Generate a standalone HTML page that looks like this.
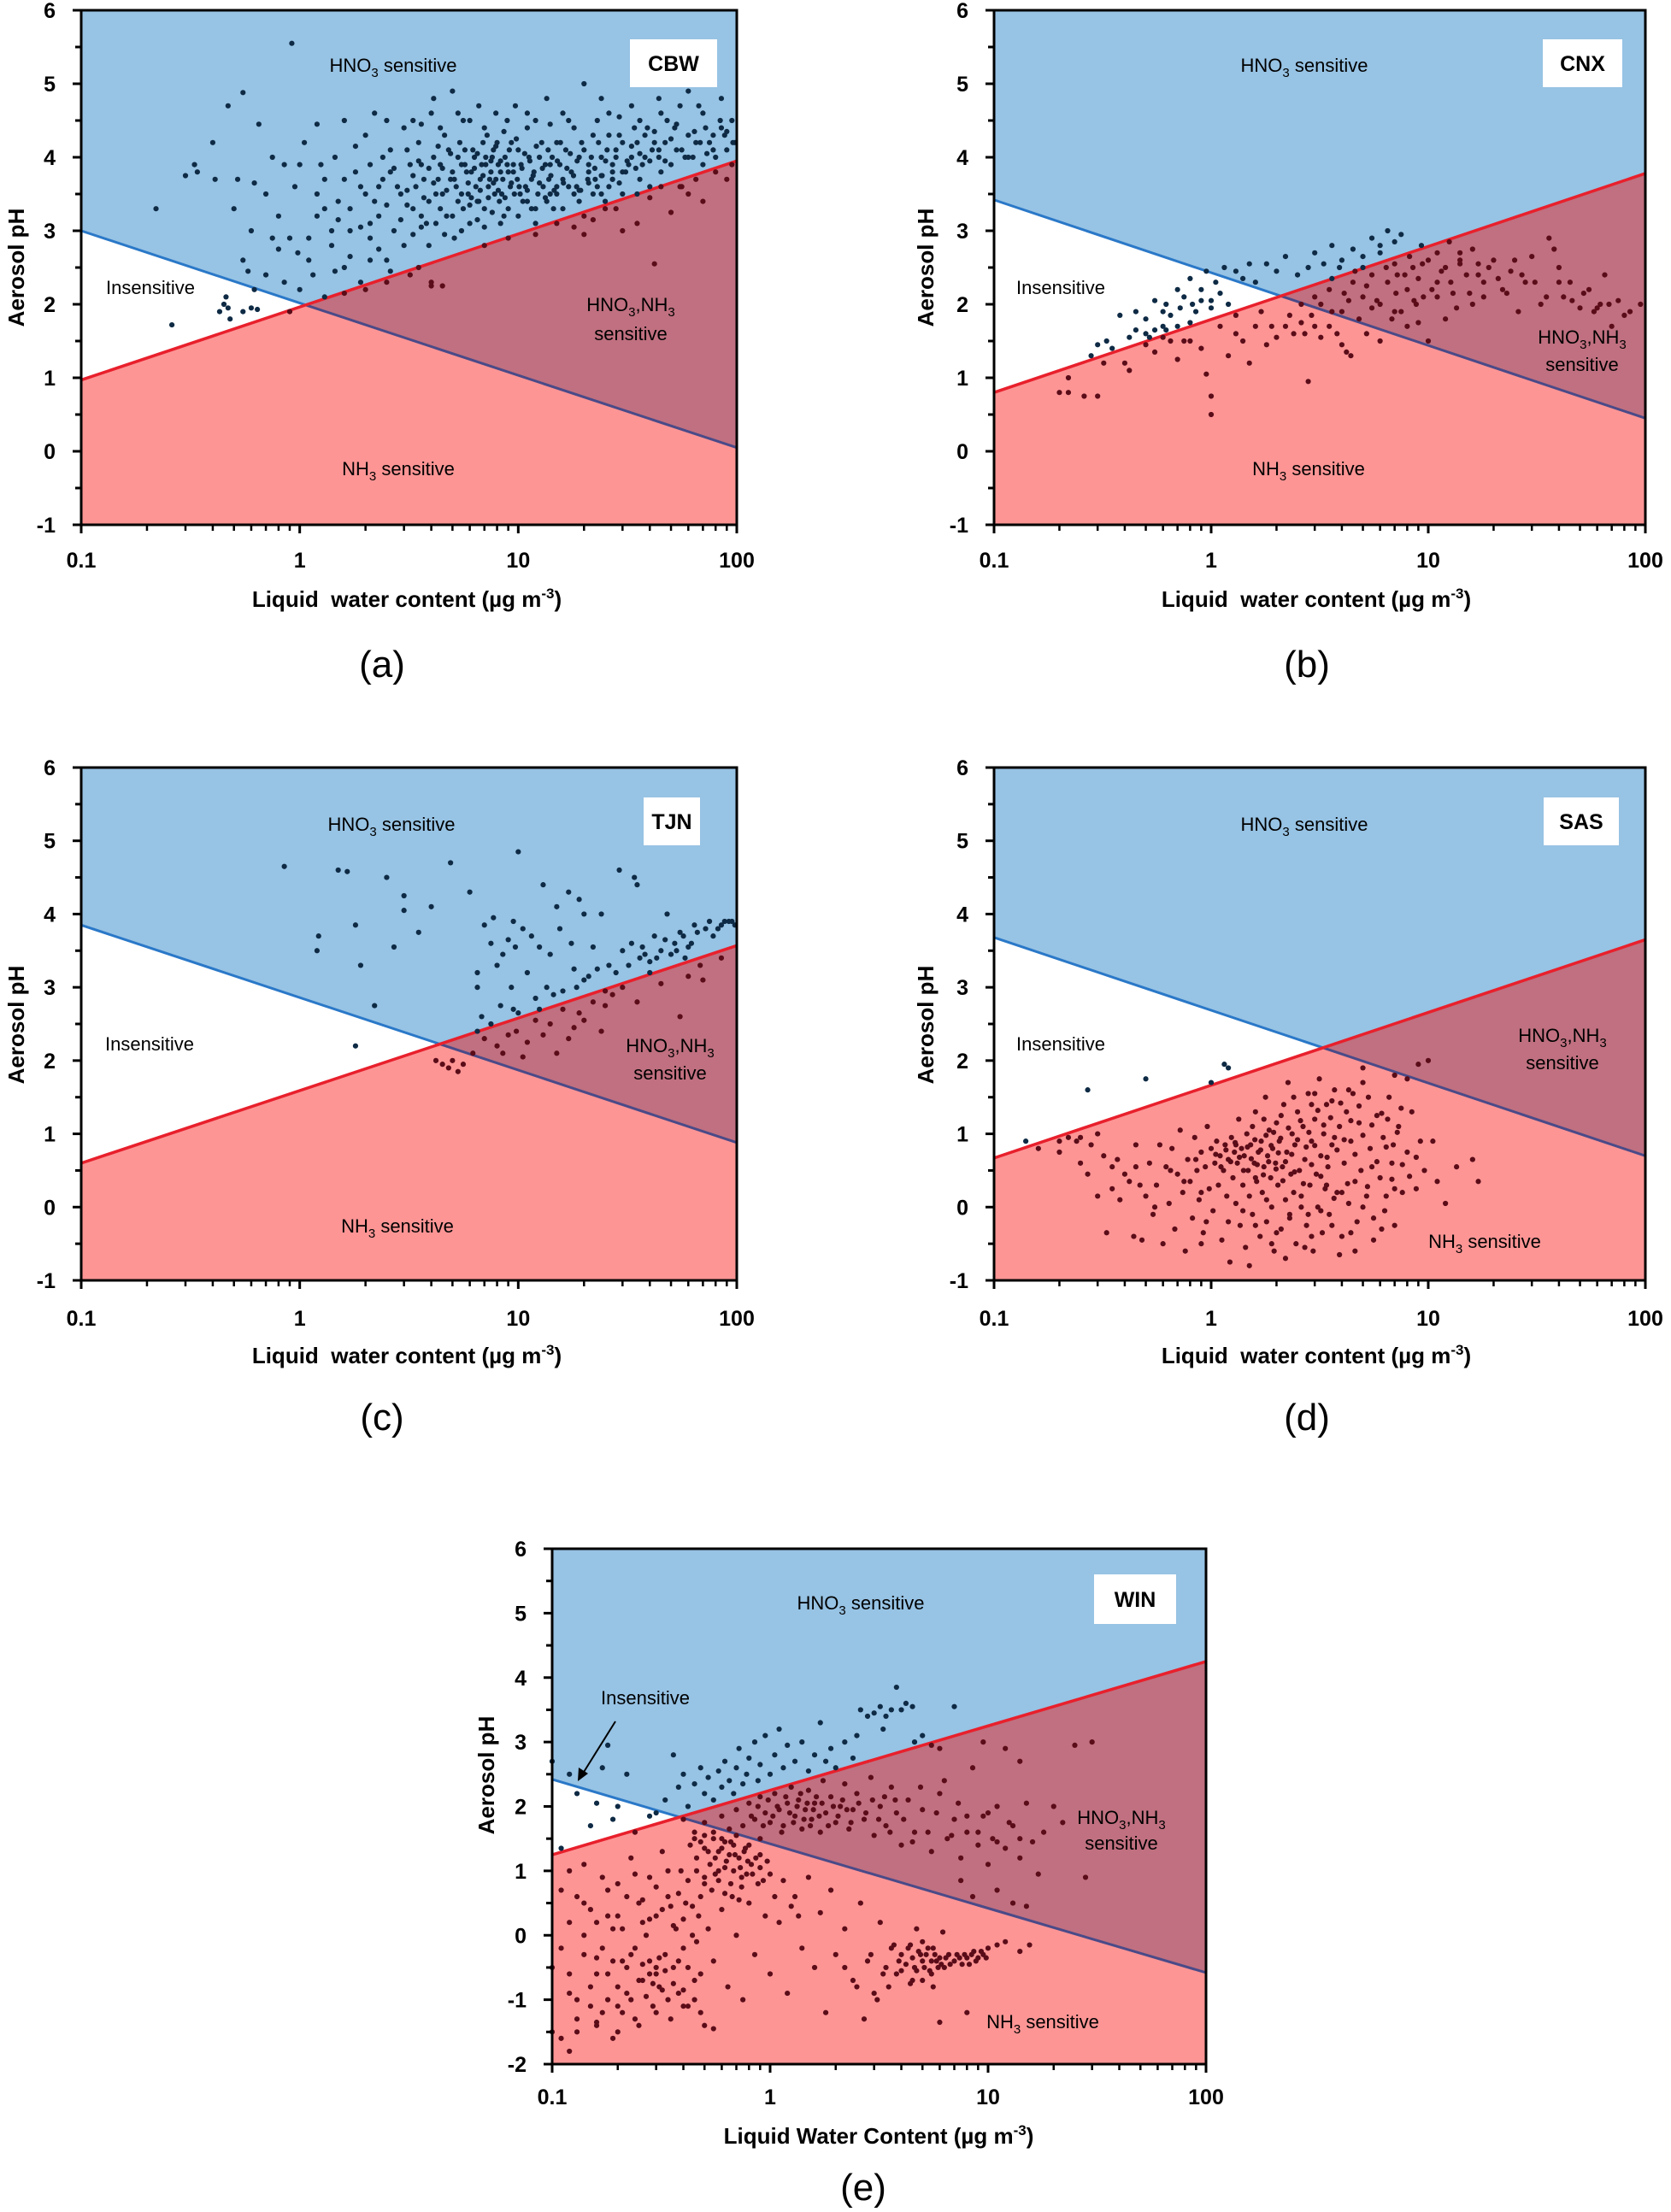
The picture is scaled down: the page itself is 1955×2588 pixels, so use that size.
<!DOCTYPE html>
<html><head><meta charset="utf-8"><title>Aerosol pH sensitivity regimes</title>
<style>
html,body{margin:0;padding:0;background:#fff;}
svg{display:block;font-family:"Liberation Sans",sans-serif;}
</style></head>
<body>
<svg id="fig" xmlns="http://www.w3.org/2000/svg" width="1955" height="2588" viewBox="0 0 1955 2588"></svg>
<script>
// ---------- data ----------
const panelCodes = ["CBW","CNX","TJN","SAS","WIN"];
const panelLetters = ["(a)","(b)","(c)","(d)","(e)"];
const xTicks = [0.1,1,10,100];
const xTickLabels = ["0.1","1","10","100"];
const yTicksA = [-1,0,1,2,3,4,5,6];
const yTicksE = [-2,-1,0,1,2,3,4,5,6];
// boundary lines: pH at LWC=0.1 and LWC=100
const blueLine = [[3.0,0.05],[3.42,0.45],[3.85,0.88],[3.68,0.7],[2.42,-0.58]];
const redLine  = [[0.97,3.95],[0.8,3.78],[0.6,3.57],[0.67,3.65],[1.25,4.25]];

const cbwPoints = [[0.22,3.3],[0.26,1.72],[0.3,3.75],[0.33,3.9],[0.34,3.8],[0.4,4.2],[0.41,3.7],[0.43,1.9],[0.45,2.0],[0.46,2.1],[0.47,1.95],[0.48,1.8],[0.47,4.7],[0.5,3.3],[0.55,4.88],[0.52,3.7],[0.55,1.9],[0.6,1.95],[0.62,2.2],[0.62,3.65],[0.64,1.93],[0.65,4.45],[0.92,5.55],[0.9,1.9],[0.55,2.6],[0.6,3.0],[0.58,2.45],[0.7,3.5],[0.75,4.0],[0.8,2.75],[0.85,2.3],[0.9,2.9],[0.95,3.6],[1.0,2.2],[1.0,3.9],[1.1,2.6],[1.2,3.2],[1.15,2.4],[1.3,3.7],[1.3,2.1],[1.4,2.8],[1.45,4.0],[1.5,3.4],[1.6,2.5],[1.6,4.5],[1.7,3.0],[1.8,3.8],[1.9,2.3],[2.0,3.5],[2.0,4.3],[2.1,2.9],[2.2,4.6],[2.3,3.2],[2.4,3.7],[2.5,2.6],[2.6,4.1],[2.7,3.0],[2.8,3.6],[3.0,4.4],[3.0,2.8],[3.2,3.9],[3.3,3.3],[3.5,4.2],[3.5,2.5],[3.7,3.7],[3.8,3.1],[4.0,4.6],[4.0,2.3],[4.2,3.5],[4.4,3.9],[4.6,4.3],[4.7,3.2],[4.9,3.7],[5.0,4.9],[5.1,2.9],[5.3,4.0],[5.5,3.5],[5.6,4.5],[5.8,3.8],[6.0,3.1],[6.2,4.1],[6.4,3.6],[6.6,4.7],[6.8,3.9],[7.0,3.3],[7.2,4.3],[7.4,3.7],[7.6,4.0],[7.8,3.5],[8.0,4.2],[8.3,3.8],[8.6,3.2],[8.9,4.5],[9.2,3.6],[9.5,3.9],[10,4.1],[10.5,3.4],[11,4.4],[11.5,3.7],[12,3.1],[12.5,4.0],[13,3.6],[13.5,4.8],[14,3.9],[14.5,3.3],[15,4.2],[16,3.7],[17,4.5],[18,3.5],[19,4.0],[20,5.0],[20,3.2],[21,3.8],[22,4.3],[23,3.6],[24,4.0],[25,3.4],[26,4.6],[27,3.7],[28,4.1],[30,3.5],[32,3.9],[34,4.4],[36,3.7],[38,4.0],[40,3.6],[42,4.2],[45,3.8],[48,4.5],[50,3.9],[53,4.1],[56,3.6],[60,4.3],[63,4.0],[67,4.7],[70,3.9],[75,4.2],[80,4.0],[85,4.4],[90,4.1],[95,4.5],[98,4.2],
[1.6,2.15],[2.0,2.2],[2.5,2.3],[3.2,2.4],[4.0,2.25],[4.5,2.25],[7,2.8],[9,2.9],[12,2.95],[15,3.1],[18,3.05],[20,2.95],[25,3.3],[30,3.0],[35,3.5],[40,3.45],[42,2.55],[45,3.6],[50,3.25],[55,3.6],[60,3.5],[65,3.7],[70,3.4],[80,3.8],[90,3.7],[95,3.9],[35,3.1],[28,3.3],[22,3.15],
[3.4,3.6],[3.6,3.9],[3.9,3.4],[4.1,4.0],[4.3,3.7],[4.5,3.5],[4.8,4.1],[5.0,3.8],[5.2,3.6],[5.4,4.2],[5.7,3.9],[5.9,3.5],[6.1,3.8],[6.3,4.0],[6.5,3.4],[6.7,3.7],[6.9,4.2],[7.1,3.9],[7.3,3.6],[7.5,3.8],[7.7,4.1],[7.9,3.7],[8.1,3.9],[8.4,3.5],[8.7,4.0],[9.0,3.8],[9.3,4.2],[9.6,3.5],[9.9,3.7],[10.3,3.9],[10.8,3.6],[11.2,4.0],[11.8,3.8],[12.3,3.5],[12.8,4.2],[13.3,3.9],[13.8,3.7],[14.3,4.0],[15,3.6],[15.5,3.9],[16.5,4.1],[17.5,3.8],[18.5,3.6],[19.5,4.2],[21,3.9],[22.5,3.7],[24,3.5],[25.5,4.1],[27,3.9],[29,4.3],[31,3.8],[33,4.0],[35,4.2],[37,3.9],[39,4.4],[41,4.1],[44,4.0],[47,4.2],[52,4.4],[58,4.0],[65,4.2],[72,4.4],[78,4.1],[88,4.3],
[2.2,3.4],[2.6,3.8],[2.9,3.5],[3.1,4.1],[2.4,4.0],[1.9,3.6],[1.7,3.3],[2.1,3.9],[3.6,3.2],[4.4,3.3],[5.6,3.3],[6.6,3.4],[8.2,3.4],[10.2,3.5],[11.5,3.3],[14,3.5],[16,3.3],[19,3.4],[22,3.5],[26,3.6],[5.3,4.6],[7.9,4.6],[9.7,4.7],[12,4.5],[16,4.6],[24,4.8],[33,4.7],[44,4.8],[60,4.9],[85,4.8],[3.3,4.5],[4.1,4.8],[1.2,3.5],[1.4,3.0],[1.1,2.9],[0.98,2.7],[1.25,3.9],[1.6,3.7]];
const cbwPoints2 = [[3.1,3.55],[3.3,3.75],[3.5,3.95],[3.7,3.45],[3.9,3.85],[4.1,3.65],[4.3,4.15],[4.5,3.85],[4.7,3.55],[4.9,4.05],[5.1,3.7],[5.3,3.4],[5.5,3.9],[5.7,4.1],[5.9,3.65],[6.1,3.45],[6.3,3.85],[6.5,4.05],[6.7,3.55],[6.9,3.75],[7.1,4.0],[7.3,3.45],[7.5,3.95],[7.7,3.65],[7.9,4.15],[8.1,3.55],[8.3,3.95],[8.5,3.7],[8.7,3.45],[8.9,3.9],[9.1,4.1],[9.3,3.65],[9.5,3.8],[9.8,4.25],[10.1,3.6],[10.4,3.85],[10.7,4.05],[11,3.55],[11.3,3.95],[11.7,3.75],[12.1,4.15],[12.5,3.65],[12.9,3.85],[13.3,3.45],[13.7,4.1],[14.1,3.75],[14.6,3.55],[15.1,3.95],[15.6,4.2],[16.1,3.65],[16.7,3.85],[17.3,4.05],[17.9,3.75],[18.6,3.95],[19.3,3.55],[20,4.1],[20.8,3.7],[21.6,4.0],[22.4,3.85],[23.3,4.2],[24.2,3.75],[25.1,3.95],[26,4.3],[27,3.8],[28,4.0],[29,3.65],[30,4.2],[31.5,3.95],[33,4.15],[34.5,3.85],[36,4.05],[38,4.3],[40,3.95],[42,4.35],[44,4.1],[47,3.95],[50,4.25],[53,4.45],[56,4.1],[60,4.0],[64,4.35],[68,4.2],[73,4.05],[78,4.3],[84,4.5],[90,4.35],[96,4.2],
[2.1,3.1],[2.3,3.6],[2.5,3.35],[2.7,3.85],[2.9,3.15],[3.1,3.35],[3.3,2.95],[3.6,3.05],[3.9,2.8],[4.2,3.1],[4.6,2.95],[5.0,3.2],[5.5,3.0],[6.0,3.35],[6.5,3.15],[7.0,3.05],[7.6,3.25],[8.3,3.1],[9.0,3.3],[10,3.2],[11,3.4],[12,3.3],[13.5,3.4],[15,3.5],[17,3.6],[19,3.55],[21,3.65],[24,3.75],[27,3.7],[30,3.8],
[1.5,3.15],[1.7,2.65],[1.9,3.05],[2.1,2.6],[2.3,2.75],[2.6,2.45],[1.3,3.3],[1.45,2.45],[1.8,4.15],[2.5,4.5],[3.6,4.45],[4.4,4.4],[6.0,4.5],[7.0,4.4],[8.6,4.35],[11,4.6],[14,4.45],[18,4.4],[23,4.5],[29,4.55],[36,4.5],[45,4.6],[55,4.7],[70,4.6],[0.8,3.2],[0.85,3.9],[1.05,4.2],[1.2,4.45],[0.7,2.4],[0.75,2.9]];

const cnxPoints = [[0.2,0.8],[0.22,0.8],[0.26,0.75],[0.3,0.75],[0.22,1.0],[0.28,1.3],[0.32,1.2],[0.35,1.4],[0.4,1.2],[0.42,1.1],[0.5,1.45],[0.55,1.35],[0.6,1.55],[0.65,1.5],[0.7,1.25],[0.75,1.5],[0.62,1.65],[0.55,1.65],[0.5,1.6],[0.8,1.5],[0.9,1.4],[0.95,1.05],[1.0,0.75],[1.0,0.5],[1.1,1.7],[1.2,1.3],[1.3,1.6],[1.4,1.5],[1.5,1.2],[1.7,1.9],[1.9,1.7],[2.0,1.55],[2.2,1.7],[2.4,1.6],[2.6,1.75],[2.8,0.95],[2.9,1.85],[3.0,1.7],[3.2,1.55],[3.5,1.7],[3.8,1.6],[4.0,1.45],[4.2,1.35],[4.4,1.3],[3.6,1.9],[0.3,1.45],[0.33,1.5],[0.38,1.85],[0.42,1.55],[0.45,1.9],[0.5,1.8],[0.55,2.05],[0.6,1.7],[0.62,2.0],[0.65,1.85],[0.7,2.2],[0.72,1.95],[0.75,2.1],[0.8,2.35],[0.82,2.0],[0.85,1.9],[0.9,2.2],[0.95,2.45],[1.0,2.05],[1.05,2.3],[1.1,2.15],[1.15,2.5],[1.2,2.0],[1.3,2.45],[1.4,2.35],[1.5,2.55],[1.6,2.3],[1.8,2.55],[2.0,2.45],[2.2,2.65],[2.5,2.4],[2.8,2.5],[3.0,2.7],[3.3,2.55],[3.6,2.8],[4.0,2.6],[4.5,2.75],[5.0,2.65],[5.5,2.9],[6.0,2.8],[6.5,3.0],[7.0,2.85],[7.5,2.95],[2.6,2.0],[3.0,2.1],[3.5,2.2],[4.0,1.9],[4.5,2.3],[5.0,2.1],[5.5,2.4],[6.0,2.0],[6.5,2.3],[7.0,2.55],[7.5,1.9],[8,2.2],[8.5,2.5],[9,2.35],[9.5,2.1],[10,2.6],[11,2.3],[12,2.5],[13,2.15],[14,2.7],[15,2.4],[16,2.0],[17,2.55],[18,2.3],[20,2.6],[22,2.2],[24,2.45],[26,1.9],[28,2.3],[30,2.65],[33,2.0],[36,2.9],[38,2.75],[40,2.5],[42,2.1],[45,2.3],[50,1.95],[55,2.2],[58,1.9],[62,2.0],[65,2.4],[70,1.7],[75,2.05],[85,1.9],[95,2.0],[10,1.5],[12,1.8],[8,1.7],[6,1.5],[4.8,1.8],[5.2,1.6],[7,1.9],[9,1.75],[5,2.5],[6,2.7],[7.2,2.4],[8.2,2.65],[9.3,2.8],[11,2.7],[12.5,2.85],[14,2.55],[16,2.75]];
const cnxPoints2 = [[3.2,2.0],[3.6,2.35],[4.1,2.15],[4.6,2.45],[5.2,2.25],[5.8,2.05],[6.4,2.5],[7.1,2.15],[7.8,2.4],[8.6,2.05],[9.4,2.55],[10.4,2.2],[11.5,2.45],[12.7,2.3],[14,2.6],[15.5,2.15],[17,2.4],[19,2.5],[21,2.35],[23,2.15],[25,2.6],[27,2.4],[31,2.3],[35,2.1],[40,2.3],[46,2.05],[52,2.15],[60,1.95],[68,2.0],[80,1.85],[6.8,1.8],[8.8,2.0],[11,2.1],[13.5,1.95],[18,2.1],[5.5,1.95],[4.3,2.05],[3.9,2.5],[2.3,1.85],[2.7,1.6],[1.6,1.7],[1.8,1.45],[1.3,1.85],[1.0,1.95],[0.9,2.05],[0.8,1.75],[0.7,1.7],[0.6,1.9],[0.52,1.55],[0.45,1.65]];

const tjnPoints = [[0.85,4.65],[1.2,3.5],[1.22,3.7],[1.5,4.6],[1.65,4.58],[1.8,2.2],[1.8,3.85],[1.9,3.3],[2.2,2.75],[2.5,4.5],[2.7,3.55],[3.0,4.25],[3.0,4.05],[3.5,3.75],[4.0,4.1],[4.2,2.0],[4.9,4.7],[6.0,4.3],[6.5,3.0],[6.5,3.2],[6.8,2.6],[7,3.85],[7.5,3.6],[7.7,3.95],[8.0,3.3],[8.3,2.75],[8.5,3.45],[9,3.65],[9.3,3.0],[9.5,3.9],[9.7,3.55],[10,4.85],[10.5,3.8],[11,3.2],[11.5,3.7],[12,2.85],[12.5,3.55],[13,4.4],[13.5,3.0],[14,3.45],[15,4.1],[15.5,3.8],[16,2.95],[17,4.3],[17.5,3.6],[18,3.25],[19,4.2],[20,4.0],[21,3.15],[22,3.55],[23,3.25],[24,4.0],[25,2.95],[26,3.3],[28,3.2],[30,3.5],[33,3.6],[35,4.4],[36,3.4],[38,3.45],[40,3.35],[42,3.7],[45,3.5],[48,4.0],[50,3.45],[52,3.6],[55,3.75],[58,3.4],[60,3.55],[64,3.85],[68,3.3],[72,3.8],[78,3.7],[85,3.85],[92,3.9],[98,3.85],[29,4.6],[34,4.5],
[4.5,1.95],[4.8,1.9],[5.0,2.0],[5.3,1.85],[5.6,1.95],[6.2,2.1],[7,2.3],[7.5,2.5],[8,2.2],[8.5,2.1],[9,2.35],[9.8,2.4],[10.5,2.05],[11,2.25],[12,2.55],[13,2.35],[14,2.5],[15,2.1],[16,2.7],[17,2.3],[18,2.45],[19,2.65],[20,2.55],[22,2.8],[24,2.4],[25,2.75],[27,2.9],[30,3.0],[35,2.8],[40,3.2],[45,3.05],[55,2.6],[60,3.15],[70,3.1],[85,3.4],[10,2.65],[12.5,2.7],[6.5,2.4]];
const tjnPoints2 = [[32,3.3],[37,3.55],[43,3.4],[47,3.65],[53,3.5],[57,3.7],[62,3.6],[66,3.75],[75,3.9],[82,3.8],[88,3.9],[95,3.9],[20,3.1],[18.5,3.0],[14.5,2.9],[9.5,2.7]];

const sasPoints = [[0.14,0.9],[0.16,0.8],[0.27,1.6],[0.5,1.75],[1.15,1.95],[1.2,1.9],[1.0,1.7],[0.2,0.75],[0.22,0.95],[0.24,0.9],[0.25,0.6],[0.27,0.45],[0.28,0.85],[0.3,1.0],[0.32,0.7],[0.33,-0.35],[0.35,0.25],[0.37,0.65],[0.38,0.1],[0.4,0.45],[0.42,0.35],[0.44,-0.4],[0.45,0.85],[0.47,0.3],[0.48,-0.45],[0.5,0.15],[0.52,0.6],[0.54,-0.1],[0.56,0.3],[0.58,0.85],[0.6,-0.5],[0.62,0.55],[0.64,0.05],[0.66,0.8],[0.68,-0.3],[0.7,0.45],[0.72,1.05],[0.74,0.2],[0.76,-0.6],[0.78,0.65],[0.8,0.35],[0.82,-0.15],[0.84,0.95],[0.86,0.5],[0.88,0.1],[0.9,0.75],[0.92,-0.35],[0.94,0.55],[0.96,1.1],[0.98,0.25],[1.0,0.8],[1.02,-0.05],[1.04,0.6],[1.06,0.9],[1.08,0.3],[1.1,0.7],[1.12,-0.45],[1.14,0.5],[1.16,0.85],[1.18,0.15],[1.2,0.65],[1.22,-0.75],[1.24,0.95],[1.26,0.4],[1.28,0.75],[1.3,0.05],[1.32,0.6],[1.34,1.2],[1.36,-0.25],[1.38,0.8],[1.4,0.3],[1.42,0.7],[1.44,-0.55],[1.46,1.0],[1.48,0.5],[1.5,0.15],[1.52,0.85],[1.55,-0.1],[1.58,0.6],[1.6,1.3],[1.62,0.35],[1.65,0.75],[1.68,-0.4],[1.7,0.9],[1.72,0.2],[1.75,0.55],[1.78,1.5],[1.8,-0.2],[1.82,0.7],[1.85,1.05],[1.88,0.4],[1.9,0.0],[1.92,0.8],[1.95,-0.6],[1.98,0.6],[2.0,1.15],[2.03,0.3],[2.06,0.9],[2.1,-0.3],[2.13,0.55],[2.16,1.4],[2.2,0.1],[2.23,0.75],[2.26,1.7],[2.3,-0.1],[2.33,0.45],[2.36,1.0],[2.4,0.2],[2.43,0.85],[2.46,-0.5],[2.5,1.3],[2.55,0.5],[2.6,0.0],[2.65,1.1],[2.7,0.65],[2.75,-0.25],[2.8,1.55],[2.85,0.3],[2.9,0.9],[2.95,-0.6],[3.0,1.2],[3.05,0.45],[3.1,0.0],[3.15,1.75],[3.2,0.7],[3.25,-0.35],[3.3,1.0],[3.35,0.25],[3.4,1.4],[3.45,0.55],[3.5,-0.1],[3.6,0.85],[3.7,1.6],[3.8,0.2],[3.9,1.1],[4.0,-0.4],[4.1,0.6],[4.2,1.3],[4.3,0.05],[4.4,0.9],[4.5,1.55],[4.6,0.35],[4.7,-0.2],[4.8,1.15],[4.9,0.5],[5.0,1.7],[5.2,0.15],[5.4,0.8],[5.6,-0.45],[5.8,1.25],[6.0,0.4],[6.2,0.95],[6.4,0.15],[6.6,1.5],[6.8,0.6],[7.0,0.25],[7.3,1.1],[7.6,0.2],[8.0,0.75],[8.4,1.3],[8.8,0.25],[9.2,0.9],[9.6,0.5],[10.5,0.9],[11,0.35],[12,0.05],[13.5,0.55],[16,0.65],[17,0.35],[5,1.9],[7,1.8],[8,1.75],[9,1.95],[10,2.0],[2.8,-0.1],[3.4,0.3],[1.5,-0.8],[2.2,-0.7],[0.9,-0.5],[4.6,-0.6],[6.1,-0.3],[3.7,0.95],[2.9,1.4],[1.6,0.4],[1.3,0.85]];
const sasPoints2 = [[1.05,0.72],[1.11,0.55],[1.17,0.78],[1.23,0.62],[1.29,0.88],[1.35,0.68],[1.41,0.5],[1.47,0.82],[1.53,0.66],[1.59,0.92],[1.63,0.58],[1.69,0.78],[1.74,0.44],[1.79,0.98],[1.84,0.62],[1.89,0.84],[1.94,1.02],[1.99,0.52],[2.04,0.74],[2.09,0.94],[2.14,0.36],[2.2,0.62],[2.27,1.08],[2.35,0.72],[2.42,0.48],[2.5,0.92],[2.58,1.18],[2.66,0.32],[2.74,0.82],[2.82,1.02],[2.9,0.58],[3.0,0.84],[3.1,1.32],[3.2,0.42],[3.3,1.12],[3.42,0.68],[3.55,1.22],[3.68,0.12],[3.8,0.78],[3.95,1.42],[4.1,0.92],[4.25,0.32],[4.4,1.18],[4.6,0.72],[4.8,1.38],[5.0,0.98],[5.25,0.28],[5.5,1.12],[5.8,0.62],[6.1,1.28],[6.4,0.82],[6.8,0.38],[7.2,1.02],[7.6,0.58],[8.2,0.42],[8.8,0.68],[1.2,-0.2],[1.4,-0.05],[1.6,-0.25],[1.8,0.1],[2.0,-0.35],[2.3,-0.15],[2.6,0.15],[2.9,-0.4],[3.2,-0.05],[3.6,-0.25],[4.0,0.2],[4.4,-0.35],[5.0,0.0],[5.6,-0.15],[6.3,-0.05],[7.0,-0.25],[0.9,0.2],[0.95,-0.2],[0.85,0.65],[0.75,0.35],[0.65,0.5],[0.55,0.0],[0.45,0.55],[0.35,0.55],[0.3,0.15],[0.25,0.95],[0.2,0.9],[3.0,1.55],[3.6,1.45],[4.3,1.6],[5.3,1.5],[6.5,1.2],[7.5,1.35],[2.4,1.5],[2.1,1.25],[3.9,-0.65],[2.7,-0.55],[1.9,-0.5],[5.5,0.55],[6.9,0.85],[1.75,1.2],[1.55,1.1]];

const winPoints = [[0.1,2.7],[0.11,1.35],[0.13,2.2],[0.12,2.5],[0.15,1.7],[0.16,2.05],[0.17,2.6],[0.18,2.95],[0.19,1.8],[0.2,2.0],[0.22,2.5],[0.24,1.6],[0.28,1.85],[0.3,1.9],[0.33,2.1],[0.36,2.8],[0.38,2.3],[0.4,2.5],[0.42,2.0],[0.45,2.35],[0.48,2.6],[0.5,2.2],[0.52,2.45],[0.55,2.1],[0.58,2.55],[0.6,2.3],[0.62,2.7],[0.65,2.4],[0.68,2.2],[0.7,2.6],[0.72,2.9],[0.75,2.35],[0.78,2.5],[0.8,2.75],[0.85,3.0],[0.88,2.4],[0.9,2.65],[0.95,3.1],[1.0,2.5],[1.05,2.8],[1.1,3.2],[1.15,2.6],[1.2,2.95],[1.3,2.7],[1.4,3.0],[1.5,2.55],[1.6,2.8],[1.7,3.3],[1.8,2.7],[1.9,2.9],[2.0,2.6],[2.2,3.0],[2.4,2.75],[2.5,3.1],[2.6,3.5],[2.8,3.4],[3.0,3.45],[3.2,3.55],[3.4,3.4],[3.6,3.5],[3.8,3.85],[4.0,3.5],[4.2,3.6],[4.5,3.55],[3.3,3.2],[4.6,3.0],[5.0,3.1],[6.0,2.9],[7.0,3.55],[5.5,2.95],
[0.4,1.8],[0.45,1.6],[0.5,1.75],[0.55,1.5],[0.6,1.85],[0.65,1.65],[0.7,1.95],[0.75,1.7],[0.8,2.05],[0.85,1.8],[0.9,2.15],[0.95,1.9],[1.0,1.75],[1.05,2.2],[1.1,1.95],[1.15,1.7],[1.2,2.05],[1.25,2.3],[1.3,1.85],[1.35,2.1],[1.4,1.65],[1.45,1.95],[1.5,2.25],[1.55,1.8],[1.6,2.05],[1.7,1.6],[1.75,2.4],[1.8,1.9],[1.9,2.15],[2.0,1.75],[2.1,2.0],[2.2,2.35],[2.3,1.65],[2.4,1.95],[2.5,2.2],[2.7,1.8],[2.9,2.45],[3.0,1.55],[3.2,2.0],[3.4,1.7],[3.6,2.3],[3.8,1.9],[4.0,1.4],[4.3,2.1],[4.6,1.6],[5.0,1.95],[5.5,1.3],[6.0,2.2],[6.5,1.5],[7.0,1.8],[7.5,1.2],[8.0,1.6],[8.5,2.6],[9.0,1.4],[9.5,1.85],[10,1.1],[10.5,1.5],[11,2.0],[12,1.35],[13,1.7],[14,1.2],[15,2.05],[16,1.45],[17,0.95],[18,1.6],[20,2.0],[22,1.75],[25,2.95],[28,0.9],[30,3.0],[12,2.9],[14,2.7],[9.5,3.0],[7.5,0.85],[8.5,0.6],[11,0.7],[13,0.5],[15,0.45],
[0.1,-0.5],[0.1,-1.5],[0.11,-1.6],[0.12,0.2],[0.12,-0.9],[0.13,0.6],[0.13,-1.3],[0.14,-0.3],[0.14,1.1],[0.15,-1.1],[0.15,0.4],[0.16,-0.6],[0.16,-1.4],[0.17,0.9],[0.17,-0.2],[0.18,-1.0],[0.18,0.3],[0.19,-1.6],[0.19,-0.4],[0.2,0.8],[0.2,-0.8],[0.21,-1.2],[0.21,0.1],[0.22,-0.5],[0.23,1.2],[0.23,-1.0],[0.24,-0.2],[0.25,0.5],[0.25,-1.4],[0.26,-0.7],[0.27,0.0],[0.28,-0.6],[0.28,0.9],[0.29,-1.1],[0.3,-0.5],[0.3,0.3],[0.31,-0.8],[0.32,1.3],[0.33,-0.3],[0.34,0.6],[0.35,-1.3],[0.36,-0.5],[0.37,0.1],[0.38,-0.9],[0.39,1.0],[0.4,-0.2],[0.41,0.5],[0.42,-1.1],[0.43,1.4],[0.44,0.0],[0.45,-0.7],[0.46,1.2],[0.47,0.3],[0.48,-1.2],[0.5,0.8],[0.5,1.35],[0.52,0.1],[0.53,1.1],[0.55,-0.4],[0.56,0.95],[0.58,1.3],[0.6,0.4],[0.6,1.5],[0.62,1.05],[0.64,-0.8],[0.65,1.25],[0.67,0.6],[0.68,1.4],[0.7,0.0],[0.72,1.2],[0.74,0.9],[0.75,-1.0],[0.77,1.35],[0.8,0.5],[0.82,1.1],[0.85,-0.3],[0.88,0.8],[0.9,1.25],[0.95,0.3],[1.0,-0.6],[1.0,0.95],[1.1,0.2],[1.2,-0.9],[1.3,0.6],[1.4,-0.2],[1.5,0.9],[1.6,-0.5],[1.7,0.35],[1.8,-1.2],[1.9,0.7],[2.0,-0.3],[2.2,0.1],[2.4,-0.7],[2.6,0.5],[2.8,-0.4],[3.0,-0.9],[3.2,0.2],[3.4,-0.5],[3.6,-0.2],[3.8,-0.6],[4.0,-0.3],[4.2,-0.45],[4.4,-0.15],[4.6,-0.5],[4.8,-0.25],[5.0,-0.4],[5.2,-0.3],[5.4,-0.55],[5.6,-0.2],[5.8,-0.4],[6.0,-0.35],[6.3,-0.5],[6.6,-0.3],[7.0,-0.4],[7.4,-0.35],[7.8,-0.3],[8.2,-0.45],[8.6,-0.25],[9.0,-0.35],[9.5,-0.3],[10,-0.2],[11,-0.15],[12,-0.1],[14,-0.25],[15.5,-0.15],[5,-0.1],[5.5,-0.6],[4.5,-0.7],[3.5,-0.8],[4.7,0.1],[6.2,0.05],[3.1,-1.0],[2.7,-1.3],[6.0,-1.35],[8,-1.2],[0.55,1.6],[0.62,1.45],[0.7,1.55],[0.8,1.4],[0.9,1.5],[0.5,1.55],[0.45,1.5],[0.58,1.0],[0.66,0.8],[0.72,0.55],[0.35,0.45],[0.26,0.2],[0.12,-1.8],[0.13,-1.5],[0.16,-1.35],[0.2,-1.5],[0.3,-1.2],[0.4,-1.1],[0.5,-1.4],[0.55,-1.45]];
const winPoints2 = [[0.82,1.85],[0.88,2.0],[0.93,1.7],[0.98,2.1],[1.03,1.85],[1.08,2.0],[1.13,1.6],[1.18,2.15],[1.23,1.9],[1.28,1.75],[1.33,2.0],[1.38,2.2],[1.43,1.8],[1.48,2.05],[1.53,1.7],[1.58,1.95],[1.63,2.15],[1.68,1.85],[1.73,2.05],[1.85,1.7],[1.95,2.0],[2.05,1.85],[2.15,2.1],[2.25,1.95],[2.35,1.75],[2.55,2.05],[2.75,1.9],[2.95,2.1],[3.15,1.8],[3.35,2.15],[3.55,1.6],[3.75,2.1],[4.1,1.8],[4.5,1.45],[4.9,2.3],[5.3,1.6],[5.8,1.9],[6.3,2.4],[6.8,1.55],[7.3,2.05],[8,1.85],[9,1.6],[10,1.9],[11,1.45],[12.5,1.75],[14,1.5],[0.48,1.45],[0.52,1.3],[0.56,1.2],[0.6,1.35],[0.63,1.15],[0.66,1.45],[0.69,1.25],[0.73,1.05],[0.76,1.3],[0.79,1.15],[0.83,0.95],[0.86,1.2],[0.9,1.05],[0.93,0.85],[0.97,1.15],[0.46,1.0],[0.5,0.9],[0.54,0.7],[0.58,0.85],[0.62,0.65],[0.68,1.0],[0.74,0.75],[0.78,0.95],[1.05,0.6],[1.15,0.85],[1.25,0.45],[1.35,0.3],
[4.3,-0.2],[4.5,-0.35],[4.7,-0.55],[4.9,-0.3],[5.1,-0.5],[5.3,-0.2],[5.5,-0.4],[5.7,-0.3],[5.9,-0.5],[6.1,-0.45],[6.4,-0.35],[6.7,-0.45],[7.2,-0.3],[7.6,-0.45],[8.0,-0.35],[8.4,-0.3],[8.8,-0.4],[9.3,-0.25],[9.8,-0.35],[3.9,-0.4],[3.7,-0.15],[4.0,-0.55],[4.4,-0.75],[5.0,-0.7],[5.6,-0.8],[3.3,-0.6],[2.9,-0.3],[2.5,-0.8],[2.2,-0.5],
[0.11,-0.2],[0.12,-0.6],[0.13,-1.0],[0.14,0.0],[0.15,-0.8],[0.16,-0.35],[0.17,-1.2],[0.18,-0.6],[0.19,0.1],[0.2,-1.1],[0.21,-0.4],[0.22,-0.9],[0.23,-0.3],[0.24,-1.3],[0.25,-0.7],[0.26,-0.45],[0.27,-0.95],[0.28,-0.4],[0.29,-0.75],[0.3,-0.6],[0.31,-0.35],[0.32,-0.85],[0.33,-0.55],[0.34,-1.0],[0.36,-0.75],[0.38,-0.4],[0.4,-0.85],[0.42,-0.5],[0.45,-1.0],[0.48,-0.6],[0.11,0.7],[0.12,1.0],[0.14,0.5],[0.16,0.2],[0.18,0.7],[0.2,0.3],[0.22,0.6],[0.24,0.95],[0.26,0.55],[0.28,0.25],[0.3,0.75],[0.32,0.4],[0.34,1.0],[0.36,0.15],[0.38,0.65],[0.4,0.25],[0.42,0.85],[0.44,0.45],[0.46,-0.1],[0.48,0.6]];

const panelPoints = [cbwPoints.concat(cbwPoints2),cnxPoints.concat(cnxPoints2),tjnPoints.concat(tjnPoints2),sasPoints.concat(sasPoints2),winPoints.concat(winPoints2)];

// ---------- layout ----------
const panels = [
 {L:95,R:862,T:12,B:614,ymin:-1,ymax:6,code:[737,46,102,56],
  labels:{hno3:[460,84],ins:[176,344],both:[738,364],both2:[738,398],nh3:[466,556]},
  letter:[447,792],xt:664,title:[476,710],ytitle:[28,313],titleText:"Liquid\u00a0 water content (µg m"},
 {L:1163,R:1925,T:12,B:614,ymin:-1,ymax:6,code:[1805,46,93,56],
  labels:{hno3:[1526,84],ins:[1241,344],both:[1851,402],both2:[1851,434],nh3:[1531,556]},
  letter:[1529,792],xt:664,title:[1540,710],ytitle:[1092,313],titleText:"Liquid\u00a0 water content (µg m"},
 {L:95,R:862,T:898,B:1498,ymin:-1,ymax:6,code:[753,933,66,56],
  labels:{hno3:[458,972],ins:[175,1229],both:[784,1231],both2:[784,1263],nh3:[465,1442]},
  letter:[447,1673],xt:1551,title:[476,1595],ytitle:[28,1199],titleText:"Liquid\u00a0 water content (µg m"},
 {L:1163,R:1925,T:898,B:1498,ymin:-1,ymax:6,code:[1806,933,88,56],
  labels:{hno3:[1526,972],ins:[1241,1229],both:[1828,1219],both2:[1828,1251],nh3:[1737,1460]},
  letter:[1529,1673],xt:1551,title:[1540,1595],ytitle:[1092,1199],titleText:"Liquid\u00a0 water content (µg m"},
 {L:646,R:1411,T:1812,B:2415,ymin:-2,ymax:6,code:[1280,1842,96,58],
  labels:{hno3:[1007,1883],ins:[755,1994],both:[1312,2134],both2:[1312,2164],nh3:[1220,2373]},
  letter:[1010,2574],xt:2462,title:[1028,2508],ytitle:[578,2077],titleText:"Liquid Water Content (µg m",arrow:true}
];

const NS="http://www.w3.org/2000/svg";
const svg=document.getElementById('fig');
function mk(tag,attrs,parent){const e=document.createElementNS(NS,tag);for(const k in attrs)e.setAttribute(k,attrs[k]);(parent||svg).appendChild(e);return e;}

panels.forEach((p,i)=>{
  const g=mk('g',{});
  
  
  const xs=v=>p.L+(Math.log10(v)+1)/3*(p.R-p.L);
  const ys=v=>p.B-(v-p.ymin)/(p.ymax-p.ymin)*(p.B-p.T);
  const bl=blueLine[i], rl=redLine[i];
  const bx0=ys(bl[0]),bx1=ys(bl[1]),rx0=ys(rl[0]),rx1=ys(rl[1]);
  const t=(bl[0]-rl[0])/((bl[0]-rl[0])-(bl[1]-rl[1]));
  const ix=p.L+t*(p.R-p.L), iy=bx0+t*(bx1-bx0);
  const pink=mk('rect',{x:p.L,y:p.T,width:p.R-p.L,height:p.B-p.T,fill:'#fd9595'},g);
  
  
  const blue=mk('polygon',{points:`${p.L},${p.T} ${p.R},${p.T} ${p.R},${rx1} ${ix},${iy} ${p.L},${bx0}`,fill:'#97c3e4'},g);
  
  
  const white=mk('polygon',{points:`${p.L},${bx0} ${ix},${iy} ${p.L},${rx0}`,fill:'#ffffff'},g);
  
  
  const purp=mk('polygon',{points:`${ix},${iy} ${p.R},${rx1} ${p.R},${bx1}`,fill:'#c07080'},g);
  
  
  const l1=mk('line',{x1:p.L,y1:bx0,x2:ix,y2:iy,stroke:'#2a78c8','stroke-width':3},g);
  
  
  const l2=mk('line',{x1:ix,y1:iy,x2:p.R,y2:bx1,stroke:'#4a4a88','stroke-width':3},g);
  
  
  const l3=mk('line',{x1:p.L,y1:rx0,x2:p.R,y2:rx1,stroke:'#e8202c','stroke-width':3.5},g);
  
  
  const pg=mk('g',{},g);
  
  
  const frac=v=>(Math.log10(v)+1)/3;
  panelPoints[i].forEach(pt=>{
    const f=frac(pt[0]);
    const redAt=rl[0]+f*(rl[1]-rl[0]);
    const c=mk('circle',{cx:xs(pt[0]),cy:ys(pt[1]),r:3.1,fill:pt[1]>redAt?'#0e2a44':'#5a0c18'},pg);
    
    
  });
  const fr=mk('rect',{x:p.L,y:p.T,width:p.R-p.L,height:p.B-p.T,fill:'none',stroke:'#000','stroke-width':3},g);
  
  
  const yT=i===4?yTicksE:yTicksA;
  yT.forEach(v=>{
    mk('line',{x1:p.L-10,y1:ys(v),x2:p.L,y2:ys(v),stroke:'#000','stroke-width':3},g);
    if(v<p.ymax) mk('line',{x1:p.L-7,y1:ys(v+0.5),x2:p.L,y2:ys(v+0.5),stroke:'#000','stroke-width':3},g);
    const tl=mk('text',{x:p.L-30,y:ys(v)+9,'text-anchor':'end','font-size':25,'font-weight':'bold'},g);
    tl.textContent=String(v);
    
    
  });
  xTicks.forEach((v,k)=>{
    mk('line',{x1:xs(v),y1:p.B,x2:xs(v),y2:p.B+10,stroke:'#000','stroke-width':3},g);
    if(k<3) for(let m=2;m<10;m++) mk('line',{x1:xs(v*m),y1:p.B,x2:xs(v*m),y2:p.B+7,stroke:'#000','stroke-width':2.5},g);
    const tl=mk('text',{x:xs(v),y:p.xt,'text-anchor':'middle','font-size':25,'font-weight':'bold'},g);
    tl.textContent=xTickLabels[k];
    
    
  });
  const xt=mk('text',{x:p.title[0],y:p.title[1],'text-anchor':'middle','font-size':26,'font-weight':'bold'},g);
  xt.innerHTML=p.titleText+'<tspan dy="-10" font-size="17">-3</tspan><tspan dy="10">)</tspan>';
  
  
  const yt=mk('text',{x:0,y:0,'text-anchor':'middle','font-size':26,'font-weight':'bold',transform:`translate(${p.ytitle[0]},${p.ytitle[1]}) rotate(-90)`},g);
  yt.textContent='Aerosol pH';
  
  
  const lb=p.labels;
  const t1=mk('text',{x:lb.hno3[0],y:lb.hno3[1],'text-anchor':'middle','font-size':22},g);
  t1.innerHTML='HNO<tspan dy="6" font-size="15">3</tspan><tspan dy="-6"> sensitive</tspan>';
  
  
  const t2=mk('text',{x:lb.ins[0],y:lb.ins[1],'text-anchor':'middle','font-size':22},g);
  t2.textContent='Insensitive';
  
  
  const t3=mk('text',{x:lb.both[0],y:lb.both[1],'text-anchor':'middle','font-size':22},g);
  t3.innerHTML='HNO<tspan dy="6" font-size="15">3</tspan><tspan dy="-6">,NH</tspan><tspan dy="6" font-size="15">3</tspan>';
  
  
  const t4=mk('text',{x:lb.both2[0],y:lb.both2[1],'text-anchor':'middle','font-size':22},g);
  t4.textContent='sensitive';
  
  
  const t5=mk('text',{x:lb.nh3[0],y:lb.nh3[1],'text-anchor':'middle','font-size':22},g);
  t5.innerHTML='NH<tspan dy="6" font-size="15">3</tspan><tspan dy="-6"> sensitive</tspan>';
  
  
  const cb=p.code;
  const br=mk('rect',{x:cb[0],y:cb[1],width:cb[2],height:cb[3],fill:'#fff'},g);
  
  
  const ct=mk('text',{x:cb[0]+cb[2]/2,y:cb[1]+cb[3]/2+9,'text-anchor':'middle','font-size':25,'font-weight':'bold'},g);
  ct.textContent=panelCodes[i];
  
  
  if(p.arrow){
    const ar=mk('line',{x1:720,y1:2014,x2:680,y2:2078,stroke:'#000','stroke-width':2},g);
    
    
    mk('polygon',{points:'676,2084 677,2068 688,2075',fill:'#000'},g);
  }
  const le=mk('text',{x:p.letter[0],y:p.letter[1],'text-anchor':'middle','font-size':44},g);
  le.textContent=panelLetters[i];
  
  
});
</script>
</body></html>
